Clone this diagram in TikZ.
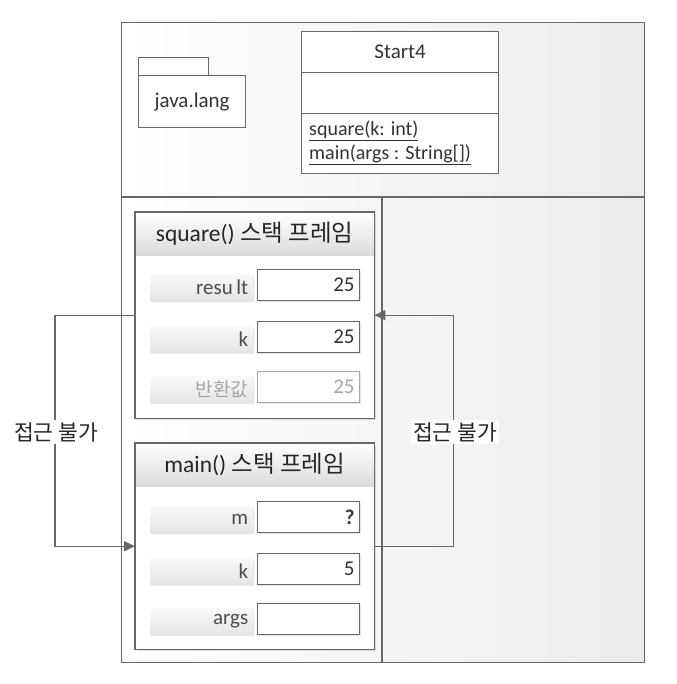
\documentclass[tikz,border=0pt]{standalone}
\usepackage{fontspec}
\setmainfont{Carlito}
\newfontfamily\kr{Noto Sans CJK KR}
\usetikzlibrary{arrows.meta,shadows}
\definecolor{edge}{HTML}{686868}
\definecolor{faint}{HTML}{A8A8A8}
\tikzset{
  ln/.style={draw=edge, line width=1.2pt},
  txt/.style={font=\fontsize{21}{23}\selectfont, text=black!80},
  mtxt/.style={font=\fontsize{20}{22}\selectfont, text=black!80},
  box/.style={ln, fill=white, inner sep=0pt, txt},
  frameb/.style={fill=white, inner sep=0pt, minimum width=239pt, minimum height=206pt, anchor=north west,
     drop shadow={opacity=0.25, shadow xshift=1.5pt, shadow yshift=-1.5pt}},
  header/.style={top color=white, bottom color=gray!28, inner sep=0pt, minimum width=239pt, minimum height=43pt,
     anchor=north west, font=\fontsize{23.5}{25}\selectfont, text=black!85},
  lblbar/.style={top color=gray!5, bottom color=gray!20, inner xsep=5pt, inner ysep=0pt, text width=93pt, align=right,
     minimum height=26pt, anchor=north west, txt, text=black!70,
     drop shadow={opacity=0.2, shadow xshift=1pt, shadow yshift=-1.5pt}},
  valbox/.style={ln, fill=white, inner xsep=5pt, inner ysep=0pt, text width=92pt, align=right, minimum height=31pt,
     anchor=north west, txt,
     drop shadow={opacity=0.2, shadow xshift=1.5pt, shadow yshift=-1.5pt}},
  conn/.style={draw=edge, line width=1.3pt},
  arr/.style={conn, -{Triangle[length=11pt,width=10pt]}},
  note/.style={fill=white, inner sep=2pt, font=\kr\fontsize{21.5}{23}\selectfont, text=black!85}
}
\begin{document}
\begin{tikzpicture}[x=1pt,y=-1pt]
\useasboundingbox (0,0) rectangle (676,684);
% outer area
\node[ln, line width=1.3pt, left color=white, right color=gray!15, minimum width=523pt, minimum height=640pt,
      anchor=north west, inner sep=0pt] (outer) at (121,22) {};
\coordinate (divL) at (121,197);
\coordinate (divR) at (644,197);
\coordinate (vtop) at (382,197);
\coordinate (vbot) at (382,662);
\draw[ln, line width=1.3pt] (divL) -- (divR);
\draw[ln, line width=1.3pt] (vtop) -- (vbot);
% package
\node[box, minimum width=70pt, minimum height=18pt, anchor=north west] (pkgtab) at (138,57) {};
\node[box, minimum width=107pt, minimum height=52pt, anchor=north west] (pkg) at (138,75) {java.lang};
% class
\node[box, minimum width=197pt, minimum height=41pt, anchor=north west] (cname) at (301,31) {Start4};
\node[box, minimum width=197pt, minimum height=41pt, anchor=north west] (cattr) at (301,72) {};
\node[box, minimum width=197pt, minimum height=60pt, anchor=north west] (cops) at (301,113) {};
\node[mtxt, anchor=west, inner sep=0pt] (op1) at (309,131) {\underline{square(k: int)}};
\node[mtxt, anchor=west, inner sep=0pt] (op2) at (309,155) {\underline{main(args : String[])}};
% square frame
\node[frameb] (sqf) at (135,212) {};
\node[header] (sqh) at (135,212) {square() {\kr 스택 프레임}};
\draw[ln] (sqf.north west) rectangle (sqf.south east);
\node[lblbar] (sql1) at (150,274) {resu\,lt};
\node[valbox] (sqv1) at (257,269) {25};
\node[lblbar] (sql2) at (150,326) {k};
\node[valbox] (sqv2) at (257,321) {25};
\node[lblbar, text=faint] (sql3) at (150,376) {{\kr\fontsize{19}{21}\selectfont 반환값}};
\node[valbox, draw=faint, text=faint] (sqv3) at (257,371) {25};
% main frame
\node[frameb] (mf) at (135,443) {};
\node[header] (mh) at (135,443) {main() {\kr 스택 프레임}};
\draw[ln] (mf.north west) rectangle (mf.south east);
\node[lblbar] (ml1) at (150,506) {m};
\node[valbox] (mv1) at (257,501) {\textbf{?}};
\node[lblbar] (ml2) at (150,558) {k};
\node[valbox] (mv2) at (257,553) {5};
\node[lblbar] (ml3) at (150,608) {args};
\node[valbox] (mv3) at (257,603) {};
% connectors
\draw[arr] (sqf.west) -- ++(-80,0) |- (mf.west);
\node[note] (noteL) at (56,432) {접근 불가};
\draw[arr] (mf.east) -- ++(79,0) |- (sqf.east);
\node[note] (noteR) at (455,432) {접근 불가};
\end{tikzpicture}
\end{document}
